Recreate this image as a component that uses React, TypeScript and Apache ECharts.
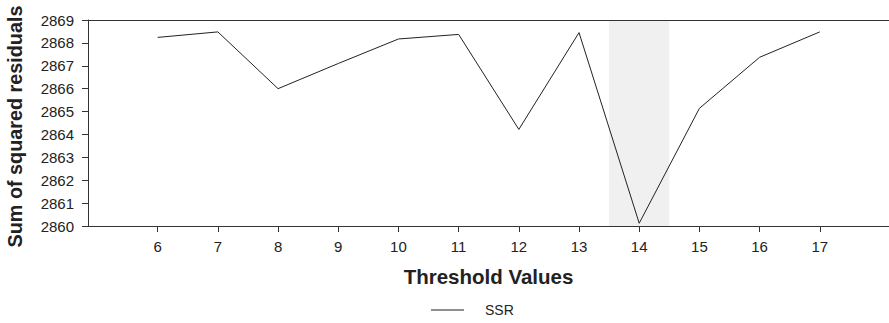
import React, { useEffect, useRef } from "react";
import * as echarts from "echarts";

const thresholds = [6, 7, 8, 9, 10, 11, 12, 13, 14, 15, 16, 17];
const ssr = [2868.24, 2868.48, 2866.0, 2867.1, 2868.17, 2868.37, 2864.22, 2868.45, 2860.12, 2865.14, 2867.37, 2868.48];
const yTicks = [2860, 2869];
const highlight = [13.5, 14.5];
const seriesName = "SSR";

export default function App() {
  const ref = useRef<HTMLDivElement>(null);
  useEffect(() => {
    document.body.style.margin = "0";
    const chart = echarts.init(ref.current!, null, { renderer: "svg" });
    const font = "'Liberation Sans', Arial, Helvetica, sans-serif";
    chart.setOption({
      animation: false,
      textStyle: { fontFamily: font },
      grid: { left: 88, right: 0, top: 20, bottom: 97, containLabel: false, outerBoundsMode: "none" },
      legend: {
        data: [{ name: seriesName }],
        left: 426,
        top: 298,
        icon: "rect",
        itemWidth: 33,
        itemHeight: 1,
        textStyle: { fontSize: 14, color: "#222", fontFamily: font, padding: [0, 0, 0, 16] },
      },
      xAxis: [
        {
          type: "value",
          min: 4.842,
          max: 18.15,
          z: 10,
          name: "Threshold Values",
          nameLocation: "middle",
          nameGap: 40,
          nameTextStyle: { fontSize: 20.5, fontWeight: "bold", color: "#222", fontFamily: font },
          axisLine: { show: true, lineStyle: { color: "#333", width: 1 } },
          axisTick: { show: true, length: 6, customValues: thresholds, lineStyle: { color: "#333" } },
          axisLabel: { show: true, customValues: thresholds, fontSize: 15, color: "#222", margin: 13, fontFamily: font },
          splitLine: { show: false },
        },
        {
          type: "value",
          position: "top",
          min: 4.842,
          max: 18.15,
          z: 10,
          axisLine: { show: true, lineStyle: { color: "#333", width: 1 } },
          axisTick: { show: false },
          axisLabel: { show: false },
          splitLine: { show: false },
        },
      ],
      yAxis: {
        type: "value",
        min: yTicks[0],
        max: yTicks[1],
        interval: 1,
        z: 10,
        name: "Sum of squared residuals",
        nameLocation: "middle",
        nameGap: 63,
        nameTextStyle: { fontSize: 19.8, fontWeight: "bold", color: "#222", fontFamily: font, padding: [0, 7, 0, 0] },
        axisLine: { show: true, lineStyle: { color: "#333", width: 1 } },
        axisTick: { show: true, length: 6, lineStyle: { color: "#333" } },
        axisLabel: { fontSize: 15, color: "#222", margin: 14, fontFamily: font, formatter: (v: number) => String(v) },
        splitLine: { show: false },
      },
      series: [
        {
          name: seriesName,
          type: "line",
          xAxisIndex: 0,
          data: thresholds.map((t, i) => [t, ssr[i]]),
          showSymbol: false,
          symbol: "none",
          lineStyle: { color: "#222", width: 1 },
          itemStyle: { color: "#222" },
          markArea: {
            silent: true,
            itemStyle: { color: "#f0f0f0" },
            data: [[{ xAxis: highlight[0] }, { xAxis: highlight[1] }]],
          },
          z: 3,
        },
      ],
    });
    return () => chart.dispose();
  }, []);
  return <div ref={ref} style={{ width: 889, height: 323 }} />;
}
